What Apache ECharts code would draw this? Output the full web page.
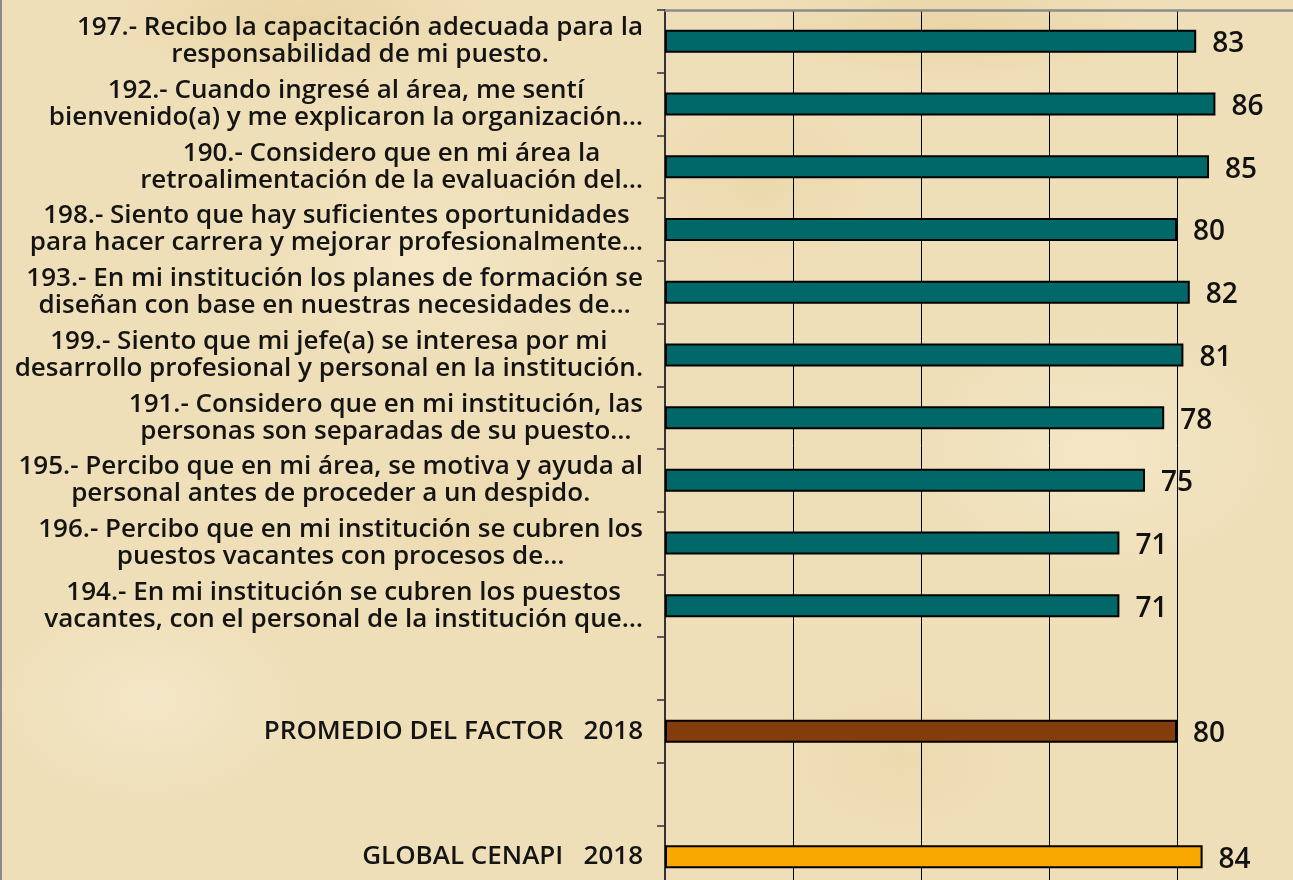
<!DOCTYPE html>
<html>
<head>
<meta charset="utf-8">
<script src="https://cdn.jsdelivr.net/npm/echarts@6/dist/echarts.min.js"></script>
<style>
  html, body { margin: 0; padding: 0; }
  body {
    width: 1293px; height: 880px; overflow: hidden;
    background-color: #efdfb9;
    background-image:
      radial-gradient(ellipse 300px 90px at 300px 20px, rgba(222,194,130,0.35), rgba(222,194,130,0) 70%),
      radial-gradient(ellipse 300px 90px at 950px 25px, rgba(222,194,130,0.35), rgba(222,194,130,0) 70%),
      radial-gradient(ellipse 220px 140px at 420px 260px, rgba(250,240,214,0.45), rgba(250,240,214,0) 70%),
      radial-gradient(ellipse 200px 160px at 760px 180px, rgba(226,200,140,0.25), rgba(226,200,140,0) 70%),
      radial-gradient(ellipse 260px 180px at 1100px 450px, rgba(250,240,214,0.45), rgba(250,240,214,0) 70%),
      radial-gradient(ellipse 220px 150px at 150px 700px, rgba(248,238,212,0.5), rgba(248,238,212,0) 70%),
      radial-gradient(ellipse 200px 130px at 900px 760px, rgba(226,200,140,0.22), rgba(226,200,140,0) 70%),
      radial-gradient(ellipse 200px 150px at 480px 520px, rgba(226,200,140,0.2), rgba(226,200,140,0) 70%);
  }
  #chart { width: 1293px; height: 880px; }
</style>
</head>
<body>
<div id="chart"></div>
<script>
// ---- data ----
const questionLabels = [
  "197.- Recibo la capacitación adecuada para la\nresponsabilidad de mi puesto.",
  "192.- Cuando ingresé al área, me sentí\nbienvenido(a) y me explicaron la organización…",
  "190.- Considero que en mi área la\nretroalimentación de la evaluación del…",
  "198.- Siento que hay suficientes oportunidades\npara hacer carrera y mejorar profesionalmente…",
  "193.- En mi institución los planes de formación se\ndiseñan con base en nuestras necesidades de…",
  "199.- Siento que mi jefe(a) se interesa por mi\ndesarrollo profesional y personal en la institución.",
  "191.- Considero que en mi institución, las\npersonas son separadas de su puesto…",
  "195.- Percibo que en mi área, se motiva y ayuda al\npersonal antes de proceder a un despido.",
  "196.- Percibo que en mi institución se cubren los\npuestos vacantes con procesos de…",
  "194.- En mi institución se cubren los puestos\nvacantes, con el personal de la institución que…"
];
const questionValues = [83, 86, 85, 80, 82, 81, 78, 75, 71, 71];
const factorLabel = "PROMEDIO DEL FACTOR   2018";
const factorValue = 80;
const globalLabel = "GLOBAL CENAPI   2018";
const globalValue = 84;
const xTicks = [0, 20, 40, 60, 80, 100];

// ---- build ----
const COLOR_Q = '#006868', COLOR_F = '#843c0c', COLOR_G = '#f9a800';
const categories = questionLabels.concat(['', factorLabel, '', globalLabel]);
const seriesData = questionValues.map(v => ({ value: v, itemStyle: { color: COLOR_Q } }))
  .concat([
    { value: null },
    { value: factorValue, itemStyle: { color: COLOR_F } },
    { value: null },
    { value: globalValue, itemStyle: { color: COLOR_G } }
  ]);

const chart = echarts.init(document.getElementById('chart'), null, { renderer: 'canvas' });
const FONT = '"Open Sans", "Noto Sans", sans-serif';
chart.setOption({
  backgroundColor: 'transparent',
  animation: false,
  graphic: [{
    type: 'line', shape: { x1: 1, y1: 0, x2: 1, y2: 880 },
    style: { stroke: '#8a8a8a', lineWidth: 2 }, silent: true
  }],
  grid: {
    left: 665, top: 10, width: 640, height: 878,
    outerBoundsMode: 'none',
    show: false
  },
  xAxis: [{
    type: 'value', min: xTicks[0], max: xTicks[xTicks.length - 1], interval: 20,
    position: 'top',
    axisLabel: { show: false }, axisTick: { show: false },
    axisLine: { show: true, lineStyle: { color: '#8c8c8c', width: 2.5 } },
    splitLine: { show: true, lineStyle: { color: '#000', width: 1 } }
  }],
  yAxis: {
    type: 'category', inverse: true, data: categories,
    axisLine: { show: true, lineStyle: { color: '#333', width: 2 } },
    axisTick: { show: true, length: 8, lineStyle: { color: '#333', width: 1.5 } },
    axisLabel: {
      margin: 22,
      interval: 0,
      formatter: v => v.split('\n').map(l => '{c|' + l + '}').join('\n'),
      rich: {
        c: { align: 'center', fontFamily: FONT, fontWeight: 600, fontSize: 26, lineHeight: 27, color: '#141414' }
      }
    }
  },
  series: [{
    type: 'bar',
    data: seriesData,
    barWidth: 23,
    itemStyle: { borderColor: '#000', borderWidth: 2 },
    label: {
      show: true, position: 'right', distance: 16, offset: [0, 3],
      fontFamily: FONT, fontWeight: 600, fontSize: 28, color: '#111',
      formatter: p => (p.value == null ? '' : p.value)
    }
  }]
});
</script>
</body>
</html>
